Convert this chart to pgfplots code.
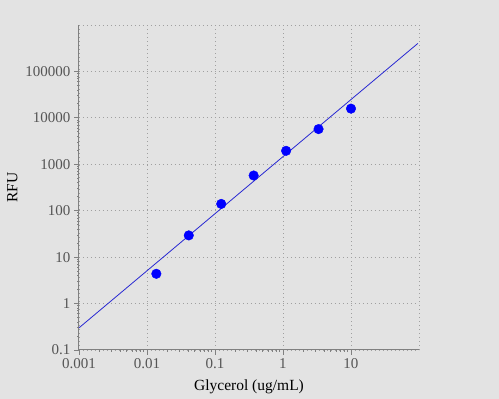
\documentclass[border=0pt]{standalone}
\usepackage{pgfplots}
\pgfplotsset{compat=1.18}
\usepackage{fontspec}
\setmainfont{Liberation Serif}
\definecolor{bg}{RGB}{227,227,227}
\definecolor{axc}{RGB}{128,128,128}
\definecolor{txt}{RGB}{85,85,85}
\definecolor{gridc}{RGB}{160,160,160}
\definecolor{linec}{RGB}{40,40,210}
\begin{document}
\begin{tikzpicture}
\fill[bg] (0pt,0pt) rectangle (499pt,399pt);
\useasboundingbox (0pt,0pt) rectangle (499pt,399pt);
\begin{axis}[
  at={(79pt,49pt)}, anchor=south west,
  scale only axis, width=340pt, height=325pt,
  xmode=log, ymode=log,
  xmin=0.001, xmax=100, ymin=0.1, ymax=1e6,
  axis lines*=left,
  axis line style={axc, line width=1pt},
  every tick/.style={axc, line width=0.8pt},
  tick align=outside,
  major tick length=5pt, minor tick length=2pt,
  minor tick num=9,
  xtick={0.001,0.01,0.1,1,10},
  xticklabels={0.001,0.01,0.1,1,10},
  ytick={0.1,1,10,100,1000,10000,100000},
  yticklabels={0.1,1,10,100,1000,10000,100000},
  extra x ticks={100}, extra x tick labels={},
  extra y ticks={1e6}, extra y tick labels={},
  extra x tick style={major tick length=0pt, grid=major},
  extra y tick style={major tick length=0pt, grid=major},
  grid=major,
  major grid style={gridc, line width=0.8pt, dash pattern=on 0.8pt off 3.2pt},
  ticklabel style={font=\fontsize{15}{17}\selectfont, text=txt},
  /pgf/number format/assume math mode=true,
  xlabel={Glycerol (ug/mL)}, ylabel={RFU},
  label style={font=\fontsize{15.5}{17}\selectfont, text=black},
  xlabel style={yshift=1pt},
  ylabel style={yshift=-4pt},
  clip=false,
]
\addplot[linec, line width=0.8pt] coordinates {(0.001,0.30) (96,400000)};
\addplot[only marks, mark=*, mark size=4.8pt, blue, mark options={draw=blue, fill=blue}] coordinates {
(0.01372,4.38) (0.04115,29.4) (0.1235,140) (0.3704,573) (1.111,1950) (3.333,5730) (10,15800)};
\end{axis}
\end{tikzpicture}
\end{document}
